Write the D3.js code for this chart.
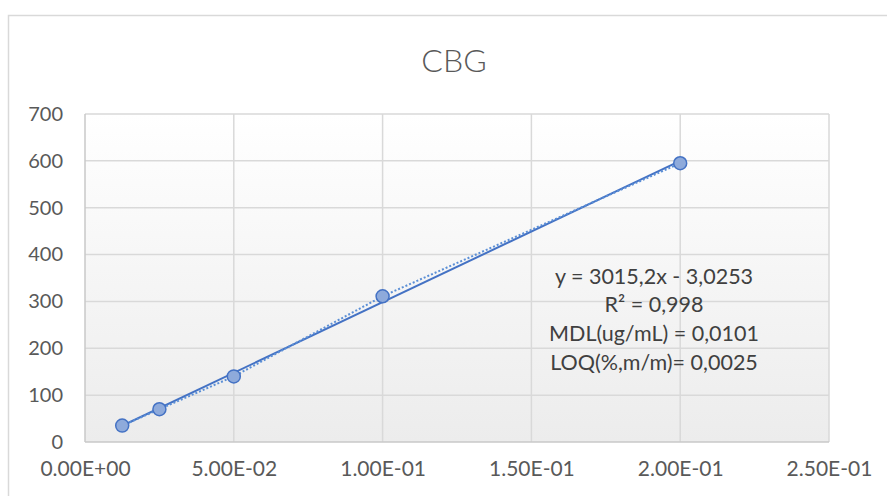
<!DOCTYPE html>
<html>
<head>
<meta charset="utf-8">
<script src="https://cdn.jsdelivr.net/npm/d3@7"></script>
<style>
  html, body { margin: 0; padding: 0; background: #fff; }
  svg { display: block; }
  svg text { font-family: Lato, sans-serif; }
</style>
</head>
<body>
<svg id="chart" width="887" height="496"></svg>
<script>
// data
const title = "CBG";
const concentration = [0.0125, 0.025, 0.05, 0.1, 0.2];
const response = [35, 70, 140, 311, 595];
const fitSlope = 3015.2;
const fitIntercept = -3.0253;
const xTicks = [0, 0.05, 0.1, 0.15, 0.2, 0.25];
const xTickLabels = ["0.00E+00", "5.00E-02", "1.00E-01", "1.50E-01", "2.00E-01", "2.50E-01"];
const yTicks = [0, 100, 200, 300, 400, 500, 600, 700];
const notes = ["y = 3015,2x - 3,0253", "R² = 0,998", "MDL(ug/mL) = 0,0101", "LOQ(%,m/m)= 0,0025"];

const svg = d3.select("#chart");
const plot = {left: 85, right: 829, top: 114, bottom: 442};

// chart area border (runs off the right and bottom edge)
svg.append("rect")
    .attr("x", 8.5).attr("y", 15.5)
    .attr("width", 900).attr("height", 500)
    .attr("fill", "#fff")
    .attr("stroke", "#d9d9d9")
    .attr("stroke-width", 1.5);

const grad = svg.append("defs").append("linearGradient")
    .attr("id", "plotbg")
    .attr("x1", 0).attr("y1", 0).attr("x2", 0).attr("y2", 1);
grad.append("stop").attr("offset", "0%").attr("stop-color", "#ffffff");
grad.append("stop").attr("offset", "100%").attr("stop-color", "#ececec");

let x = d3.scaleLinear().domain([0, 0.25]).range([plot.left, plot.right]);
let y = d3.scaleLinear().domain([0, 700]).range([plot.bottom, plot.top]);

svg.append("rect")
    .attr("x", plot.left).attr("y", plot.top)
    .attr("width", plot.right - plot.left)
    .attr("height", plot.bottom - plot.top)
    .attr("fill", "url(#plotbg)");

// gridlines
svg.append("g")
    .selectAll("line")
    .data(yTicks.slice(1))
    .join("line")
    .attr("x1", plot.left).attr("x2", plot.right)
    .attr("y1", d => y(d)).attr("y2", d => y(d))
    .attr("stroke", "#d9d9d9")
    .attr("stroke-width", 1.5);

svg.append("g")
    .selectAll("line")
    .data(xTicks.slice(1))
    .join("line")
    .attr("x1", d => x(d)).attr("x2", d => x(d))
    .attr("y1", plot.top).attr("y2", plot.bottom)
    .attr("stroke", "#d9d9d9")
    .attr("stroke-width", 1.5);

// axis lines
svg.append("line")
    .attr("x1", plot.left).attr("x2", plot.left)
    .attr("y1", plot.top).attr("y2", plot.bottom)
    .attr("stroke", "#c8c8c8").attr("stroke-width", 1.5);
svg.append("line")
    .attr("x1", plot.left).attr("x2", plot.right)
    .attr("y1", plot.bottom).attr("y2", plot.bottom)
    .attr("stroke", "#c8c8c8").attr("stroke-width", 1.5);

// tick labels
svg.append("g")
    .attr("transform", `translate(${plot.left - 22},0)`)
    .call(d3.axisLeft(y).tickValues(yTicks).tickSize(0).tickPadding(0))
    .call(g => g.select(".domain").remove())
    .attr("font-family", null)
    .selectAll("text")
    .attr("font-size", 20)
    .attr("fill", "#595959");

svg.append("g")
    .attr("transform", `translate(0,${plot.bottom + 19})`)
    .call(d3.axisBottom(x).tickValues(xTicks).tickSize(0).tickPadding(0)
            .tickFormat((d, i) => xTickLabels[i]))
    .call(g => g.select(".domain").remove())
    .attr("font-family", null)
    .selectAll("text")
    .attr("font-size", 21)
    .attr("fill", "#595959");

// fitted line (solid)
const xExt = d3.extent(concentration);
svg.append("path")
    .datum(xExt)
    .attr("fill", "none")
    .attr("stroke", "#4472c4")
    .attr("stroke-width", 2)
    .attr("d", d3.line().x(d => x(d)).y(d => y(fitSlope * d + fitIntercept)));

// series joined (dotted)
svg.append("path")
    .datum(d3.zip(concentration, response))
    .attr("fill", "none")
    .attr("stroke", "#5b8fd6")
    .attr("stroke-width", 2)
    .attr("stroke-dasharray", "2,2")
    .attr("d", d3.line().x(d => x(d[0])).y(d => y(d[1])));

svg.append("g")
    .selectAll("circle")
    .data(d3.zip(concentration, response))
    .join("circle")
    .attr("cx", d => x(d[0]))
    .attr("cy", d => y(d[1]))
    .attr("r", 6.5)
    .attr("fill", "#8eaadb")
    .attr("stroke", "#4472c4")
    .attr("stroke-width", 1.5);

// title
svg.append("text")
    .attr("x", 454).attr("y", 72)
    .attr("text-anchor", "middle")
    .attr("font-size", 32)
    .attr("font-weight", 300)
    .attr("fill", "#595959")
    .text(title);

// equation / notes
svg.append("g")
    .selectAll("text")
    .data(notes)
    .join("text")
    .attr("x", 654)
    .attr("y", (d, i) => 276 + i * 28.7)
    .attr("dy", "0.35em")
    .attr("text-anchor", "middle")
    .attr("font-size", 21.5)
    .attr("fill", "#404040")
    .text(d => d);
</script>
</body>
</html>
